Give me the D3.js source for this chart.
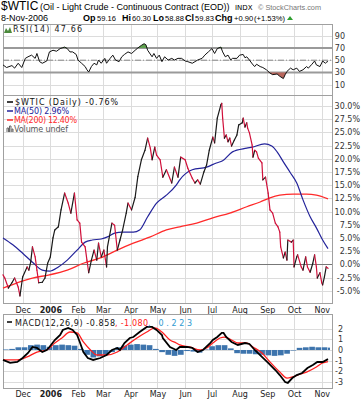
<!DOCTYPE html>
<html>
<head>
<meta charset="utf-8">
<script src="https://d3js.org/d3.v7.min.js"></script>
<style>
  body { margin: 0; background: #fff; }
</style>
</head>
<body>
<div id="chart"></div>
<script>
// price line, % change
var wtic = [["2005-11-09",-2.0],["2005-11-11",-2.6],["2005-11-15",-4.5],["2005-11-19",-3.5],["2005-11-22",-2.6],["2005-11-26",-4.3],["2005-11-28",-6.0],["2005-12-01",-2.4],["2005-12-06",-0.5],["2005-12-08",-1.1],["2005-12-10",0.4],["2005-12-12",3.3],["2005-12-15",1.4],["2005-12-17",-1.1],["2005-12-19",-3.5],["2005-12-23",-3.4],["2005-12-26",-2.6],["2005-12-29",0.2],["2006-01-01",1.4],["2006-01-04",5.0],["2006-01-06",6.5],["2006-01-10",7.1],["2006-01-13",10.3],["2006-01-17",13.5],["2006-01-21",11.6],["2006-01-24",9.7],["2006-01-28",13.5],["2006-01-31",8.4],["2006-02-03",7.8],["2006-02-05",4.2],["2006-02-09",3.3],["2006-02-11",0.8],["2006-02-13",-1.6],["2006-02-16",0.8],["2006-02-19",2.7],["2006-02-22",0.8],["2006-02-24",4.0],["2006-02-27",1.4],["2006-03-02",2.7],["2006-03-05",-0.5],["2006-03-06",3.3],["2006-03-11",7.8],["2006-03-14",7.4],["2006-03-17",2.7],["2006-03-20",4.6],["2006-03-23",6.5],["2006-03-27",9.7],["2006-03-29",11.6],["2006-04-02",10.3],["2006-04-06",12.7],["2006-04-09",16.6],["2006-04-13",19.8],["2006-04-17",21.6],["2006-04-20",23.9],["2006-04-23",22.0],["2006-04-25",19.8],["2006-04-28",22.2],["2006-04-30",20.7],["2006-05-04",19.8],["2006-05-07",16.5],["2006-05-11",17.9],["2006-05-17",15.4],["2006-05-20",18.4],["2006-05-24",16.5],["2006-05-27",20.3],["2006-06-01",19.8],["2006-06-04",18.2],["2006-06-09",16.3],["2006-06-12",15.4],["2006-06-15",16.0],["2006-06-18",15.2],["2006-06-22",17.5],["2006-06-25",18.8],["2006-06-28",21.6],["2006-07-02",24.1],["2006-07-04",23.0],["2006-07-07",27.7],["2006-07-11",30.2],["2006-07-12",30.5],["2006-07-13",27.7],["2006-07-15",23.9],["2006-07-17",24.5],["2006-07-19",23.2],["2006-07-21",23.9],["2006-07-23",22.4],["2006-07-26",23.5],["2006-07-29",24.5],["2006-07-31",26.4],["2006-08-04",26.8],["2006-08-05",27.7],["2006-08-07",26.0],["2006-08-09",26.8],["2006-08-10",25.8],["2006-08-12",24.9],["2006-08-15",22.6],["2006-08-16",20.3],["2006-08-18",21.6],["2006-08-20",21.3],["2006-08-22",20.1],["2006-08-26",19.2],["2006-08-27",16.0],["2006-08-30",16.5],["2006-09-02",13.5],["2006-09-04",10.3],["2006-09-07",9.7],["2006-09-10",7.8],["2006-09-13",7.1],["2006-09-15",6.1],["2006-09-16",3.3],["2006-09-19",1.2],["2006-09-21",2.3],["2006-09-23",0.8],["2006-09-24",4.6],["2006-09-28",4.2],["2006-09-30",4.6],["2006-10-01",-0.5],["2006-10-04",1.4],["2006-10-05",1.8],["2006-10-09",-0.5],["2006-10-11",-1.1],["2006-10-14",1.4],["2006-10-16",-0.5],["2006-10-19",-1.5],["2006-10-22",0.2],["2006-10-24",1.8],["2006-10-26",-0.5],["2006-10-27",-2.6],["2006-10-30",-1.6],["2006-11-01",-3.5],["2006-11-02",-3.9],["2006-11-04",-2.4],["2006-11-06",-0.5],["2006-11-08",-0.76]];

var ma50 = [["2005-11-09",5.0],["2005-11-20",3.7],["2005-12-01",2.1],["2005-12-12",0.4],["2005-12-23",-1.1],["2005-12-31",-1.3],["2006-01-10",-0.5],["2006-01-20",0.8],["2006-01-31",2.7],["2006-02-09",4.2],["2006-02-17",4.6],["2006-02-27",4.8],["2006-03-06",5.2],["2006-03-14",5.9],["2006-03-23",6.1],["2006-04-04",6.1],["2006-04-11",6.5],["2006-04-20",9.0],["2006-04-30",11.6],["2006-05-11",13.1],["2006-05-22",15.0],["2006-05-26",16.0],["2006-06-09",17.9],["2006-06-25",18.4],["2006-07-06",19.2],["2006-07-13",19.6],["2006-07-24",21.3],["2006-08-09",22.0],["2006-08-15",22.2],["2006-08-29",22.8],["2006-09-06",22.4],["2006-09-12",21.3],["2006-09-19",19.4],["2006-09-27",17.3],["2006-10-04",15.4],["2006-10-11",12.2],["2006-10-19",9.0],["2006-10-26",6.9],["2006-11-02",4.6],["2006-11-08",2.96]];

var ma200 = [["2005-11-09",-4.5],["2005-11-25",-3.5],["2005-12-12",-2.6],["2005-12-31",-2.0],["2006-01-20",-1.1],["2006-02-07",0.2],["2006-02-26",1.2],["2006-03-17",2.7],["2006-04-04",4.0],["2006-04-23",5.2],["2006-05-11",6.5],["2006-05-26",7.1],["2006-06-14",7.8],["2006-07-02",8.8],["2006-07-21",9.7],["2006-08-09",10.9],["2006-08-24",11.8],["2006-09-04",12.6],["2006-09-15",13.1],["2006-09-30",13.3],["2006-10-15",13.3],["2006-10-26",13.1],["2006-11-08",12.4]];

var rsi = [["2005-11-09",42.3],["2005-11-13",38.0],["2005-11-19",41.2],["2005-11-22",37.0],["2005-11-26",45.0],["2005-11-30",38.0],["2005-12-04",53.0],["2005-12-07",55.6],["2005-12-11",58.3],["2005-12-15",53.0],["2005-12-17",61.0],["2005-12-20",47.6],["2005-12-23",45.0],["2005-12-28",48.7],["2005-12-31",63.6],["2006-01-04",66.3],["2006-01-08",64.7],["2006-01-12",69.0],["2006-01-15",70.5],["2006-01-17",71.5],["2006-01-20",69.0],["2006-01-23",63.6],["2006-01-26",63.6],["2006-01-30",59.4],["2006-02-01",50.3],["2006-02-05",45.0],["2006-02-09",39.6],["2006-02-11",34.3],["2006-02-13",30.6],["2006-02-16",39.6],["2006-02-19",45.0],["2006-02-22",42.3],["2006-02-24",50.3],["2006-02-27",45.0],["2006-03-03",53.0],["2006-03-05",45.0],["2006-03-09",53.0],["2006-03-12",58.3],["2006-03-15",50.3],["2006-03-19",47.6],["2006-03-22",55.6],["2006-03-25",59.4],["2006-03-29",63.6],["2006-04-02",61.0],["2006-04-06",66.3],["2006-04-09",70.0],["2006-04-13",74.3],["2006-04-16",77.0],["2006-04-18",75.4],["2006-04-20",66.3],["2006-04-25",55.6],["2006-04-27",61.0],["2006-04-30",53.0],["2006-05-03",58.3],["2006-05-06",47.6],["2006-05-09",55.6],["2006-05-13",50.3],["2006-05-17",53.0],["2006-05-20",50.3],["2006-05-24",53.0],["2006-05-28",53.0],["2006-06-01",48.7],["2006-06-04",47.6],["2006-06-09",45.0],["2006-06-12",47.6],["2006-06-15",50.3],["2006-06-20",53.0],["2006-06-23",58.3],["2006-06-27",63.6],["2006-07-01",69.0],["2006-07-04",61.0],["2006-07-07",69.0],["2006-07-11",71.5],["2006-07-13",63.6],["2006-07-16",55.6],["2006-07-19",58.3],["2006-07-22",50.3],["2006-07-24",53.0],["2006-07-29",53.0],["2006-08-01",58.3],["2006-08-05",59.4],["2006-08-07",54.0],["2006-08-09",55.6],["2006-08-12",50.3],["2006-08-16",42.3],["2006-08-18",39.6],["2006-08-20",43.4],["2006-08-24",39.6],["2006-08-27",38.0],["2006-08-31",34.3],["2006-09-04",29.0],["2006-09-07",26.3],["2006-09-12",27.4],["2006-09-15",23.6],["2006-09-19",19.9],["2006-09-21",26.3],["2006-09-23",31.6],["2006-09-27",37.0],["2006-09-30",34.3],["2006-10-04",37.0],["2006-10-07",31.6],["2006-10-11",34.3],["2006-10-15",39.6],["2006-10-17",37.0],["2006-10-21",43.4],["2006-10-24",48.7],["2006-10-26",42.3],["2006-10-30",39.6],["2006-11-02",48.7],["2006-11-05",45.0],["2006-11-07",47.6],["2006-11-08",47.66]];

var macd = [["2005-11-09",-0.93],["2005-11-17",-1.21],["2005-11-25",-1.12],["2005-12-01",-0.75],["2005-12-07",-0.28],["2005-12-12",0.28],["2005-12-17",0.19],["2005-12-23",-0.19],["2005-12-28",0.0],["2005-12-31",0.28],["2006-01-06",0.93],["2006-01-12",1.40],["2006-01-15",1.87],["2006-01-21",2.06],["2006-01-26",1.87],["2006-01-31",1.40],["2006-02-03",0.75],["2006-02-07",-0.19],["2006-02-12",-0.75],["2006-02-18",-0.93],["2006-02-26",-0.75],["2006-03-05",-0.47],["2006-03-11",0.0],["2006-03-17",0.19],["2006-03-20",0.0],["2006-03-25",0.65],["2006-03-31",1.12],["2006-04-04",1.21],["2006-04-11",1.68],["2006-04-19",2.15],["2006-04-25",2.15],["2006-04-30",1.87],["2006-05-06",1.40],["2006-05-07",1.12],["2006-05-15",0.28],["2006-05-22",0.0],["2006-05-26",0.28],["2006-06-03",0.28],["2006-06-09",0.19],["2006-06-15",-0.19],["2006-06-21",0.0],["2006-06-29",0.65],["2006-07-02",0.93],["2006-07-07",1.21],["2006-07-12",1.59],["2006-07-14",1.59],["2006-07-17",1.21],["2006-07-23",0.75],["2006-07-30",0.47],["2006-08-07",0.65],["2006-08-12",0.56],["2006-08-18",0.0],["2006-08-26",-0.65],["2006-09-02",-1.21],["2006-09-10",-1.87],["2006-09-15",-2.34],["2006-09-21",-2.99],["2006-09-24",-3.08],["2006-09-29",-2.62],["2006-10-04",-2.34],["2006-10-10",-2.15],["2006-10-16",-1.68],["2006-10-22",-1.40],["2006-10-27",-1.12],["2006-11-02",-1.12],["2006-11-08",-0.858]];

var signal = [["2005-11-09",-0.93],["2005-11-25",-0.93],["2005-12-06",-0.65],["2005-12-17",-0.19],["2005-12-28",0.0],["2006-01-06",0.65],["2006-01-14",1.12],["2006-01-23",1.68],["2006-01-31",1.59],["2006-02-07",0.75],["2006-02-15",0.0],["2006-02-22",-0.47],["2006-03-05",-0.47],["2006-03-17",-0.19],["2006-03-28",0.47],["2006-04-08",1.12],["2006-04-19",1.68],["2006-04-28",2.06],["2006-05-06",1.68],["2006-05-15",0.93],["2006-05-22",0.65],["2006-05-26",0.47],["2006-06-06",0.28],["2006-06-18",0.0],["2006-06-25",0.19],["2006-07-02",0.65],["2006-07-10",1.12],["2006-07-15",1.21],["2006-07-23",0.93],["2006-07-30",0.65],["2006-08-09",0.65],["2006-08-16",0.28],["2006-08-26",-0.28],["2006-09-04",-1.12],["2006-09-15",-2.06],["2006-09-23",-2.62],["2006-09-29",-2.52],["2006-10-05",-2.34],["2006-10-15",-2.06],["2006-10-26",-1.59],["2006-11-02",-1.21],["2006-11-08",-1.08]];

var hist = [["2005-11-09",0.05],["2005-11-16",0.1],["2005-11-23",0.25],["2005-11-30",0.25],["2005-12-07",0.45],["2005-12-14",0.5],["2005-12-21",0.45],["2005-12-28",0.3],["2006-01-04",0.45],["2006-01-11",0.5],["2006-01-18",0.45],["2006-01-25",0.4],["2006-02-01",0.1],["2006-02-08",-0.45],["2006-02-15",-0.7],["2006-02-22",-0.6],["2006-03-01",-0.45],["2006-03-08",-0.2],["2006-03-15",0.25],["2006-03-22",0.4],["2006-03-29",0.5],["2006-04-05",0.55],["2006-04-12",0.5],["2006-04-19",0.45],["2006-04-26",0.1],["2006-05-03",-0.2],["2006-05-10",-0.45],["2006-05-17",-0.55],["2006-05-24",-0.45],["2006-05-31",-0.1],["2006-06-07",-0.15],["2006-06-14",-0.25],["2006-06-21",0.05],["2006-06-28",0.35],["2006-07-05",0.45],["2006-07-12",0.45],["2006-07-19",0.15],["2006-07-26",-0.3],["2006-08-02",-0.35],["2006-08-09",-0.35],["2006-08-16",-0.4],["2006-08-23",-0.45],["2006-08-30",-0.5],["2006-09-06",-0.55],["2006-09-13",-0.5],["2006-09-20",-0.35],["2006-09-27",-0.05],["2006-10-04",0.2],["2006-10-11",0.25],["2006-10-18",0.3],["2006-10-25",0.25],["2006-11-01",0.25],["2006-11-08",0.22]];

var monthTicks = ["2005-12-01","2006-01-01","2006-02-01","2006-03-01","2006-04-01","2006-05-01","2006-06-01","2006-07-01","2006-08-01","2006-09-01","2006-10-01","2006-11-01"];
var monthLabels = ["Dec","2006","Feb","Mar","Apr","May","Jun","Jul","Aug","Sep","Oct","Nov"];
var rsiTicks = [90, 70, 50, 30, 10];
var pctTicks = [30, 27.5, 25, 22.5, 20, 17.5, 15, 12.5, 10, 7.5, 5, 2.5, 0, -2.5, -5];
var macdTicks = [2, 1, 0, -1, -2, -3];

var parse = d3.timeParse("%Y-%m-%d");
var svg = d3.select("#chart").append("svg").attr("width", 362).attr("height", 400);

var dejavu = "'DejaVu Sans', Verdana, sans-serif";
var arial = "'Liberation Sans', Arial, sans-serif";

var L = 3, R = 332;
var x = d3.scaleTime().domain([parse("2005-11-09"), parse("2006-11-08")]).range([3, 328]);
var yR = d3.scaleLinear().domain([-7, 109.3]).range([95, 24]);
var yP = d3.scaleLinear().domain([-7.33, 32.07]).range([303, 95]);
var yM = d3.scaleLinear().domain([-3.55, 3.36]).range([388, 314]);
var months = monthTicks.map(parse);

function panel(y, ticks, top, bottom) {
  var g = svg.append("g");
  g.selectAll(".v").data(months).enter().append("line")
    .attr("x1", d => Math.round(x(d)) + 0.5).attr("x2", d => Math.round(x(d)) + 0.5)
    .attr("y1", top).attr("y2", bottom)
    .attr("stroke", "#dcdcdc");
  g.selectAll(".h").data(ticks).enter().append("line")
    .attr("x1", L).attr("x2", R)
    .attr("y1", d => Math.round(y(d)) + 0.5).attr("y2", d => Math.round(y(d)) + 0.5)
    .attr("stroke", "#dcdcdc");
  g.append("rect").attr("x", L + 0.5).attr("y", top + 0.5)
    .attr("width", R - L).attr("height", bottom - top)
    .attr("fill", "none").attr("stroke", "#a0a0a0");
  return g;
}

function yAxis(scale, ticks, xpos, fmt) {
  var g = svg.append("g").attr("transform", "translate(" + xpos + ",0)")
    .call(d3.axisLeft(scale).tickValues(ticks).tickSize(0).tickPadding(0).tickFormat(fmt));
  g.select(".domain").remove();
  g.selectAll("text").attr("font-size", 8).attr("fill", "#333").style("font-family", dejavu);
}

function xAxis(ypos, pad) {
  var g = svg.append("g").attr("transform", "translate(0," + ypos + ")")
    .call(d3.axisBottom(x).tickValues(months).tickSize(0).tickPadding(pad)
      .tickFormat((d, i) => monthLabels[i]));
  g.select(".domain").remove();
  g.selectAll("text").attr("font-size", 8).attr("fill", "#222").style("font-family", dejavu)
    .attr("font-weight", (d, i) => monthLabels[i] === "2006" ? "bold" : "normal");
}

function txt(s, tx, ty, size, opts) {
  opts = opts || {};
  var t = svg.append("text").attr("x", tx).attr("y", ty).attr("font-size", size)
    .attr("fill", opts.fill || "#000").style("font-family", opts.family || dejavu).text(s);
  if (opts.weight) t.attr("font-weight", opts.weight);
  if (opts.len) t.attr("textLength", opts.len).attr("lengthAdjust", "spacing");
  return t;
}

// header
txt("$WTIC", 1, 10, 12, {family: arial});
txt("(Oil - Light Crude - Continuous Contract (EOD))", 40, 10, 9, {family: arial});
txt("INDX", 235, 10, 7, {});
txt("© StockCharts.com", 258, 10, 7.3, {family: arial, fill: "#777"});
txt("8-Nov-2006", 1, 21, 9, {family: arial});
var hdr = [["Op", 83, true], ["59.16", 97, false], ["Hi", 122, true], ["60.30", 132, false],
  ["Lo", 153, true], ["58.88", 165, false], ["Cl", 185, true], ["59.83", 195, false],
  ["Chg", 215, true], ["+0.90", 234, false], ["(+1.53%)", 254, false]];
hdr.forEach(h => txt(h[0], h[1], 21, h[2] ? 9 : 7.6, {family: arial, weight: h[2] ? "bold" : null}));
svg.append("path").attr("d", "M287,20 L293,20 L290,16 Z").attr("fill", "#2e9e2e");

// RSI panel
panel(yR, rsiTicks, 24, 95);
svg.selectAll(".thr").data([70, 30]).enter().append("line")
  .attr("x1", L).attr("x2", R).attr("y1", d => yR(d)).attr("y2", d => yR(d))
  .attr("stroke", "#9a9a9a").attr("stroke-width", 2);
svg.append("line").attr("x1", L).attr("x2", R).attr("y1", yR(50)).attr("y2", yR(50))
  .attr("stroke", "#888").attr("stroke-dasharray", "6,2,1,2");
var rsiPts = rsi.map(d => [parse(d[0]), d[1]]);
svg.append("path").datum(rsiPts)
  .attr("d", d3.area().x(d => x(d[0])).y0(yR(30)).y1(d => yR(Math.min(d[1], 30))))
  .attr("fill", "#b8665c");
svg.append("path").datum(rsiPts)
  .attr("d", d3.area().x(d => x(d[0])).y0(yR(70)).y1(d => yR(Math.max(d[1], 70))))
  .attr("fill", "#5fa24f");
svg.append("path").datum(rsiPts)
  .attr("d", d3.line().x(d => x(d[0])).y(d => yR(d[1])))
  .attr("fill", "none").attr("stroke", "#111").attr("stroke-width", 1);
yAxis(yR, rsiTicks, 345, d => d);
svg.append("path").attr("d", "M4,33 L6,28 L8,31 L10,27 L12,33 Z").attr("fill", "#4c8a3c");
txt("RSI(14) 47.66", 13, 32, 8, {fill: "#222", len: 69});

// main price panel
panel(yP, pctTicks, 95, 303);
svg.append("line").attr("x1", L).attr("x2", R).attr("y1", Math.round(yP(0)) + 0.5).attr("y2", Math.round(yP(0)) + 0.5)
  .attr("stroke", "#777");
var line = d3.line().x(d => x(parse(d[0]))).y(d => yP(d[1]));
svg.append("path").datum(ma200).attr("d", line.curve(d3.curveMonotoneX))
  .attr("fill", "none").attr("stroke", "#ff2a2a").attr("stroke-width", 1.3);
svg.append("path").datum(ma50).attr("d", line.curve(d3.curveMonotoneX))
  .attr("fill", "none").attr("stroke", "#23239a").attr("stroke-width", 1.2);
var segs = d3.pairs(wtic);
svg.append("g").selectAll("line").data(segs).enter().append("line")
  .attr("x1", d => x(parse(d[0][0]))).attr("y1", d => yP(d[0][1]))
  .attr("x2", d => x(parse(d[1][0]))).attr("y2", d => yP(d[1][1]))
  .attr("stroke", d => d[1][1] < d[0][1] ? "#d0103a" : "#1a1a1a")
  .attr("stroke-width", 1.2).attr("stroke-linecap", "round");
yAxis(yP, pctTicks, 360, d => d.toFixed(1) + "%");

// main legend
svg.append("line").attr("x1", 7).attr("x2", 13).attr("y1", 102).attr("y2", 102).attr("stroke", "#000").attr("stroke-width", 1.5);
txt("$WTIC (Daily) -0.76%", 15, 105, 8, {fill: "#111", len: 103});
svg.append("line").attr("x1", 7).attr("x2", 13).attr("y1", 111).attr("y2", 111).attr("stroke", "#23239a").attr("stroke-width", 1.5);
txt("MA(50) 2.96%", 14, 114, 8, {fill: "#23239a", len: 55});
svg.append("line").attr("x1", 7).attr("x2", 13).attr("y1", 120).attr("y2", 120).attr("stroke", "#ff2a2a").attr("stroke-width", 1.5);
txt("MA(200) 12.40%", 14, 123, 8, {fill: "#ff2a2a", len: 63});
svg.append("path").attr("d", "M7,132 V128 H8.5 V132 M9.5,132 V126 H11 V132 M12,132 V129 H13 V132").attr("fill", "none").attr("stroke", "#666");
txt("Volume undef", 14, 132, 8, {fill: "#555", len: 54});

xAxis(303, 4.3);

// MACD panel
panel(yM, macdTicks, 314, 388);
var histPts = hist.map(d => [parse(d[0]), d[1]]);
svg.append("g").selectAll("rect").data(histPts).enter().append("rect")
  .attr("x", d => x(d[0]))
  .attr("width", (d, i) => i < histPts.length - 1 ? x(histPts[i + 1][0]) - x(d[0]) - 0.6 : 2)
  .attr("y", d => Math.min(yM(0), yM(d[1])))
  .attr("height", d => Math.abs(yM(d[1]) - yM(0)))
  .attr("fill", "#3d74ad");
var mline = d3.line().x(d => x(parse(d[0]))).y(d => yM(d[1]));
svg.append("path").datum(signal).attr("d", mline.curve(d3.curveMonotoneX))
  .attr("fill", "none").attr("stroke", "#ff2020").attr("stroke-width", 1.3);
svg.append("path").datum(macd).attr("d", mline.curve(d3.curveLinear))
  .attr("fill", "none").attr("stroke", "#000").attr("stroke-width", 1.8);
yAxis(yM, macdTicks, 343, d => d);
svg.append("line").attr("x1", 7).attr("x2", 12).attr("y1", 322).attr("y2", 322).attr("stroke", "#000").attr("stroke-width", 1.5);
txt("MACD(12,26,9) -0.858", 15, 326, 8, {fill: "#111", len: 100});
txt(", -1.080", 115, 326, 8, {fill: "#ff2020", len: 33});
txt(", 0.223", 148, 326, 8, {fill: "#2f9ad0", len: 44});

xAxis(388, 3.3);
</script>
</body>
</html>
